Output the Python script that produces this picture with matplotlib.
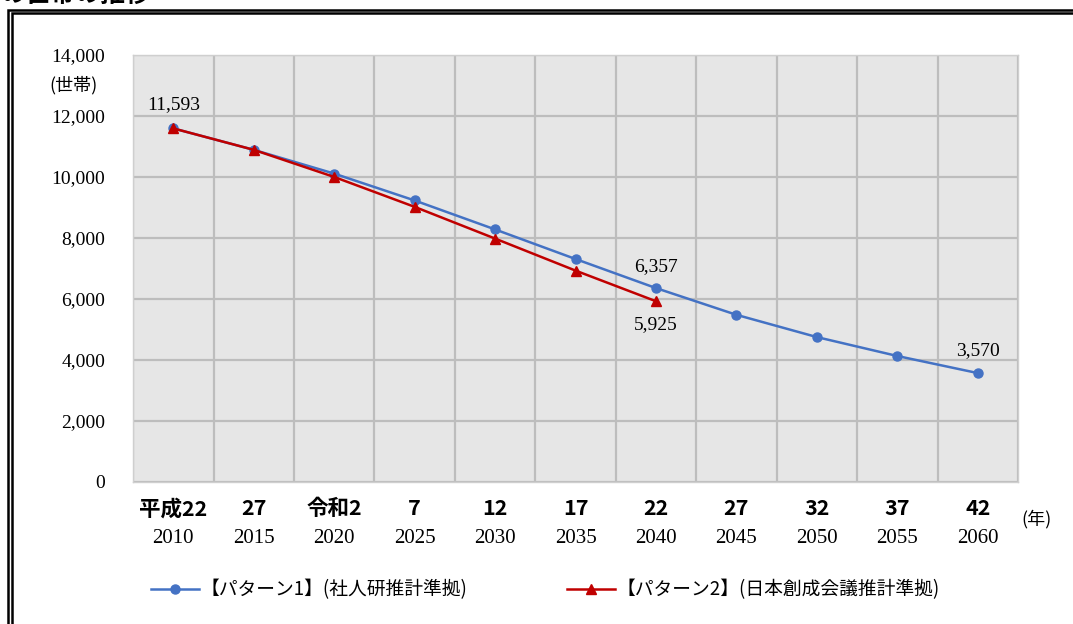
import matplotlib
matplotlib.use("Agg")
import matplotlib.pyplot as plt
import matplotlib.transforms as mtransforms
from matplotlib.lines import Line2D
import numpy as np

plt.rcParams['font.family'] = ['Noto Sans CJK JP', 'DejaVu Sans']

# 年次ラベル（和暦・西暦）
wareki = ['平成22', '27', '令和2', '7', '12', '17', '22', '27', '32', '37', '42']
seireki = ['2010', '2015', '2020', '2025', '2030', '2035', '2040', '2045', '2050', '2055', '2060']

# 世帯数の推計
pattern1 = [11593, 10890, 10110, 9230, 8280, 7310, 6357, 5480, 4750, 4130, 3570]
pattern2 = [11593, 10890, 10000, 9020, 7980, 6930, 5925]
label1 = '【パターン1】(社人研推計準拠)'
label2 = '【パターン2】(日本創成会議推計準拠)'

serif = 'Liberation Serif'

fig = plt.figure(figsize=(10.73, 6.24), dpi=100)
ax = fig.add_axes([0.124, 0.2276, 0.8248, 0.6843])

x1 = np.arange(len(pattern1))
x2 = np.arange(len(pattern2))
ax.plot(x1, pattern1, color='#4472C4', lw=1.8, marker='o', ms=6.5, zorder=3)
ax.plot(x2, pattern2, color='#C00000', lw=1.8, marker='^', ms=6.5, zorder=4)

ax.set_xlim(-0.5, len(seireki) - 0.5)
ax.set_ylim(0, 14000)
ax.set_facecolor('#e6e6e6')
for s in ax.spines.values():
    s.set_color('#cfcfcf')
    s.set_linewidth(1.0)

# 格子線（区間の境目に縦線）
ax.set_xticks(np.arange(-0.5, len(seireki)), minor=True)
ax.set_xticks([])
ax.set_yticks(np.arange(0, 14001, 2000))
ax.set_yticklabels([f'{v:,}' for v in range(0, 14001, 2000)], fontfamily=serif, fontsize=14)
ax.tick_params(axis='y', length=0, pad=20)
ax.tick_params(axis='x', which='both', length=0)
ax.grid(True, axis='y', which='major', color='#bdbdbd', lw=1.6)
ax.grid(True, axis='x', which='minor', color='#bdbdbd', lw=1.6)
ax.set_axisbelow(True)

# 横軸ラベル（2段）
trans = mtransforms.blended_transform_factory(ax.transData, ax.transAxes)
for i, (w, s) in enumerate(zip(wareki, seireki)):
    ax.text(i, -0.063, w, transform=trans, ha='center', va='center',
            fontsize=15.5, fontweight='bold')
    ax.text(i, -0.133, s, transform=trans, ha='center', va='center',
            fontsize=15, fontfamily=serif)

ax.text(-0.04, 0.93, '(世帯)', transform=ax.transAxes, ha='right', va='center', fontsize=13)
ax.text(1.004, -0.088, '(年)', transform=ax.transAxes, ha='left', va='center', fontsize=13)

# データラベル
ax.annotate(f'{pattern1[0]:,}', (0, pattern1[0]), xytext=(0, 11), textcoords='offset points',
            ha='center', va='bottom', fontsize=14, fontfamily=serif)
ax.annotate(f'{pattern1[6]:,}', (6, pattern1[6]), xytext=(0, 9), textcoords='offset points',
            ha='center', va='bottom', fontsize=14, fontfamily=serif)
ax.annotate(f'{pattern2[6]:,}', (6, pattern2[6]), xytext=(0, -11), textcoords='offset points',
            ha='center', va='top', fontsize=14, fontfamily=serif)
ax.annotate(f'{pattern1[10]:,}', (10, pattern1[10]), xytext=(0, 10), textcoords='offset points',
            ha='center', va='bottom', fontsize=14, fontfamily=serif)

# 凡例
handles = [Line2D([], [], color='#4472C4', lw=1.8, marker='o', ms=6.5),
           Line2D([], [], color='#C00000', lw=1.8, marker='^', ms=6.5)]
fig.legend(handles, [label1, label2], ncol=2, loc='center', bbox_to_anchor=(0.508, 0.055),
           frameon=False, fontsize=13.5, handlelength=2.6, handletextpad=0.05, columnspacing=5.3)

# 外枠（二重線、右端と下端は画面外）
for left, top in ((0.0075, 0.984), (0.0115, 0.979)):
    fig.add_artist(plt.Rectangle((left, -0.1), 1.2, top + 0.1,
                                 transform=fig.transFigure, fill=False, ec='black', lw=1.8))

# 見出し（上端で切れている）
fig.text(0.0, 1.008, 'の世帯の推移', ha='left', va='center', fontsize=18, fontweight='bold')

fig.savefig('out.png', dpi=100)
